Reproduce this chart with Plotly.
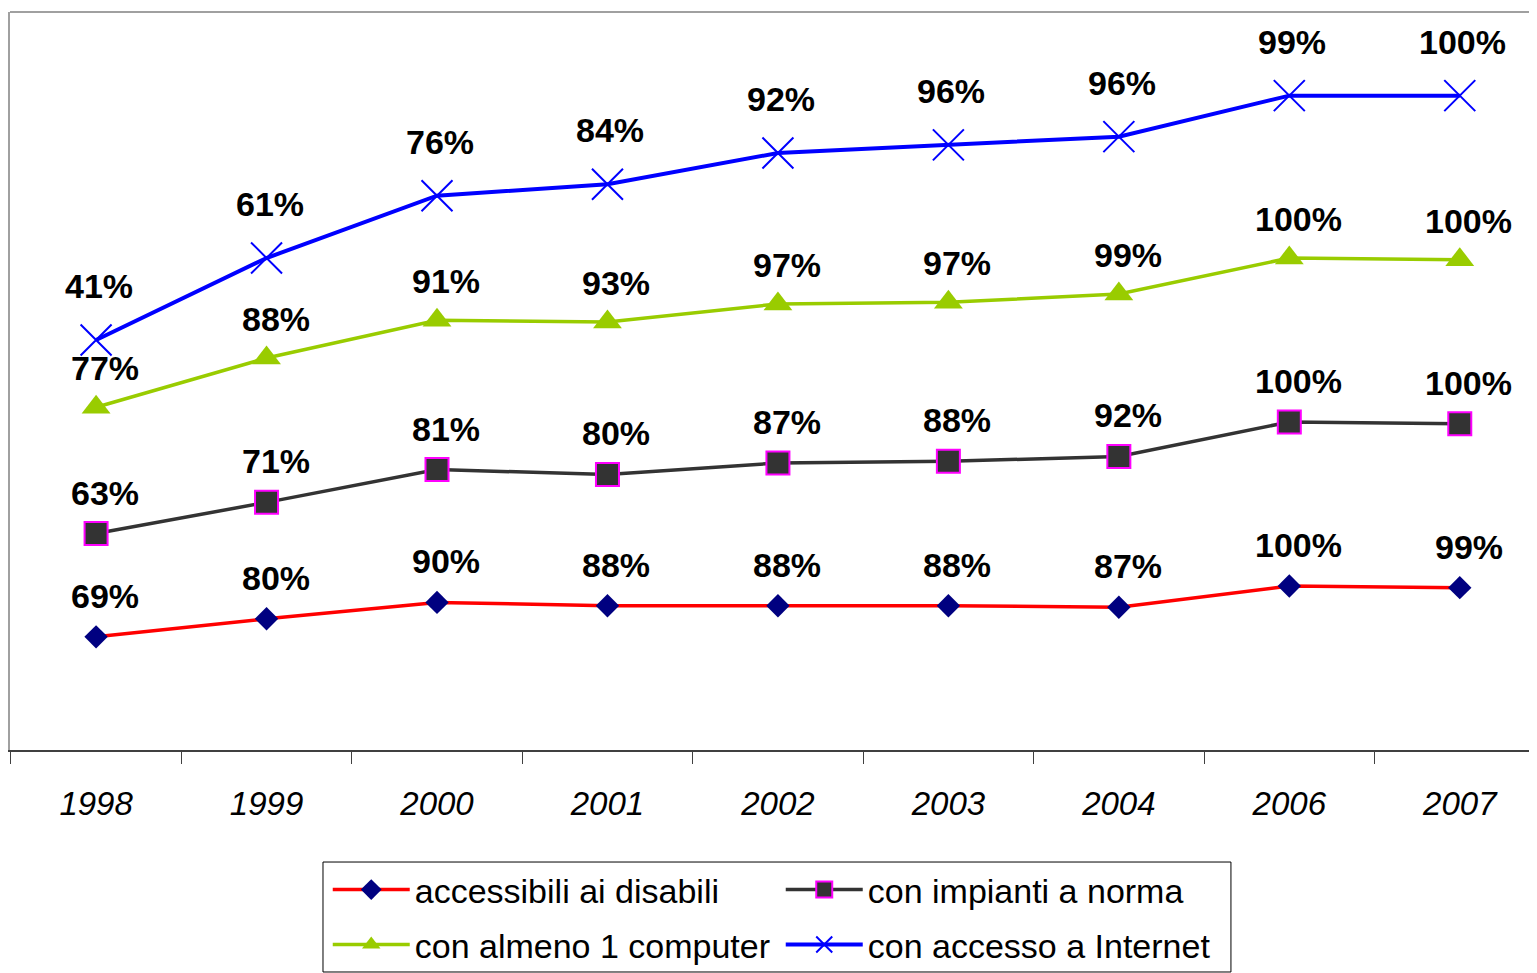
import numpy as np
import plotly.graph_objects as go

# Anni (manca il 2005)
years = ["1998", "1999", "2000", "2001", "2002", "2003", "2004", "2006", "2007"]

accessibili = [69, 80, 90, 88, 88, 88, 87, 100, 99]
impianti = [63, 71, 81, 80, 87, 88, 92, 100, 100]
computer = [77, 88, 91, 93, 97, 97, 99, 100, 100]
internet = [41, 61, 76, 84, 92, 96, 96, 99, 100]

FONT = "Liberation Sans, Arial, sans-serif"

series = [
    dict(name="accessibili ai disabili", values=accessibili, line="#FF0000", width=3.5,
         marker=dict(symbol="diamond", size=18, color="#000080"),
         xshift=9, yshift=41, legend="legend"),
    dict(name="con impianti a norma", values=impianti, line="#333333", width=3.5,
         marker=dict(symbol="square", size=23, color="#333333",
                     line=dict(color="#FF00FF", width=2)),
         xshift=9, yshift=41, legend="legend"),
    dict(name="con almeno 1 computer", values=computer, line="#99CC00", width=3.5,
         marker=dict(symbol="triangle-up", size=25, color="#99CC00"),
         xshift=9, yshift=39, legend="legend2"),
    dict(name="con accesso a Internet", values=internet, line="#0000FF", width=4,
         marker=dict(symbol="x-thin", size=31, color="#0000FF",
                     line=dict(color="#0000FF", width=2)),
         xshift=3, yshift=54, legend="legend2"),
]

fig = go.Figure()
stacked = np.cumsum([s["values"] for s in series], axis=0)

for s, cum in zip(series, stacked):
    fig.add_trace(go.Scatter(
        x=years, y=s["values"], name=s["name"],
        stackgroup="one", fill="none",
        mode="lines+markers",
        line=dict(color=s["line"], width=s["width"]),
        marker=s["marker"], legend=s["legend"],
    ))
    for i, (v, c) in enumerate(zip(s["values"], cum)):
        fig.add_annotation(
            x=i, y=float(c), text=f"<b>{v}%</b>", showarrow=False,
            xshift=s["xshift"], yshift=s["yshift"],
            font=dict(family=FONT, size=34, color="#000000"),
        )

legend_common = dict(
    orientation="h", x=0.207, xanchor="left", yanchor="top",
    entrywidth=361, entrywidthmode="pixels", itemwidth=77,
    font=dict(family=FONT, size=34, color="#000000"),
    borderwidth=0, bgcolor="rgba(0,0,0,0)",
)

fig.update_layout(
    width=1537, height=973,
    margin=dict(l=2, r=0, t=4, b=231),
    paper_bgcolor="#FFFFFF", plot_bgcolor="#FFFFFF",
    font=dict(family=FONT, color="#000000"),
    legend=dict(legend_common, y=-0.1504),
    legend2=dict(legend_common, y=-0.2249),
    shapes=[
        dict(type="line", xref="paper", yref="paper", x0=0, x1=1, y0=1, y1=1,
             line=dict(color="#A0A0A0", width=2)),
        dict(type="rect", xref="paper", yref="paper", x0=0.2039, x1=0.7954,
             y0=-0.3008, y1=-0.1518, line=dict(color="#000000", width=1)),
    ],
)
fig.update_xaxes(
    type="category", range=[-0.505, 8.5],
    showline=True, linecolor="#404040", linewidth=2,
    ticks="outside", tickson="boundaries", ticklen=12, tickcolor="#404040",
    tickfont=dict(family=FONT, size=33, color="#000000", style="italic"),
    ticklabelstandoff=23,
    showgrid=False, zeroline=False,
)
fig.update_yaxes(
    range=[0, 450], showline=True, linecolor="#A0A0A0", linewidth=2,
    showticklabels=False, ticks="", showgrid=False, zeroline=False,
)

fig.write_html("out.html")
